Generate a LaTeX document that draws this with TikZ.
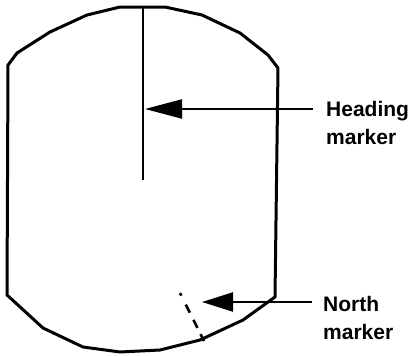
\documentclass[tikz,border=0pt]{standalone}
\usepackage{fontspec}
\usepackage{tikz}
\usetikzlibrary{arrows.meta}
\newfontfamily\lblfont{Liberation Sans}
\tikzset{
  hs outline/.style={
    draw=black, line width=3pt, line join=round
  },
  hs needle/.style={
    draw=black, line width=2.4pt
  },
  hs dashes/.style={
    draw=black, line width=2.6pt,
    dash pattern=on 3pt off 10pt on 9pt off 8pt on 9pt off 7pt on 8pt
  },
  hs pointer/.style={
    -{Triangle[length=37pt, width=19pt]}, draw=black, line width=2.2pt
  },
  hs pointer short/.style={
    -{Triangle[length=31pt, width=19pt]}, draw=black, line width=2.2pt
  },
  hs label/.style={
    font=\lblfont\bfseries\fontsize{21}{28}\selectfont,
    align=left, inner sep=0pt, anchor=base west
  }
}

\begin{document}
\begin{tikzpicture}[x=1pt, y=-1pt]
  \useasboundingbox (0,0) rectangle (416,356);

  % instrument face
  \draw [hs outline] (120,7) -- (165,7) -- (202,15) -- (240,33) -- (268,55)
    -- (278,68) -- (275,297) -- (243,320) -- (200,340) -- (160,350)
    -- (120,352) -- (83,347) -- (43,328) -- (7,295) -- (8,65) -- (17,53)
    -- (50,32) -- (87,15) -- cycle;

  % heading marker
  \coordinate (hTop) at (143,7);
  \coordinate (hEnd) at (143,180);
  \coordinate (hTip) at (145,109);
  \coordinate (hTail) at (313,109);
  \draw [hs needle] (hTop) -- (hEnd);

  % north marker
  \coordinate (nTop) at (180,293);
  \coordinate (nEnd) at (204,341);
  \coordinate (nTip) at (202,302);
  \coordinate (nTail) at (312,302);
  \draw [hs dashes] (nTop) -- (nEnd);

  % labels (base anchor sits on the last line)
  \node (hLabel) [hs label] at (326,144) {Heading\\marker};
  \node (nLabel) [hs label] at (323,339) {North\\marker};

  \draw [hs pointer] (hTail) -- (hTip);
  \draw [hs pointer short] (nTail) -- (nTip);
\end{tikzpicture}
\end{document}
